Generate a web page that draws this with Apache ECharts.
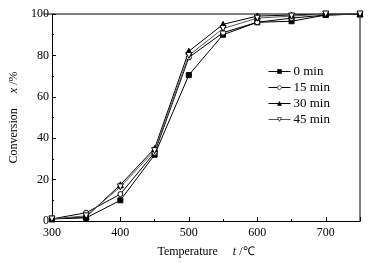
<!DOCTYPE html>
<html><head><meta charset="utf-8">
<script src="https://cdn.jsdelivr.net/npm/echarts@6/dist/echarts.min.js"></script>
<style>html,body{margin:0;padding:0;background:#fff}#c{width:369px;height:263px}</style>
</head><body><div id="c"></div>
<script>
const temps = [300, 350, 400, 450, 500, 550, 600, 650, 700, 750];
const s0 = [1, 1.5, 10, 32, 70.5, 90, 96, 96.5, 99.5, 100];
const s15 = [1, 4, 13, 33, 79, 91, 96, 98, 99.5, 100];
const s30 = [1, 2, 17.5, 35, 82, 95, 99, 99.5, 100, 100];
const s45 = [1, 2.5, 16.5, 34, 80, 93, 98, 99, 100, 100];
const names = ['0 min', '15 min', '30 min', '45 min'];
const F = 'Liberation Serif, Times New Roman, serif';
const chart = echarts.init(document.getElementById('c'));
function mk(name, vals, symbol, fill, lineColor, size) {
  return {
    name, type: 'line', data: temps.map((t, i) => [t, vals[i]]),
    symbol, symbolSize: size, showSymbol: true,
    lineStyle: { color: lineColor, width: 1 },
    itemStyle: { color: fill, borderColor: '#000', borderWidth: 1 },
    animation: false
  };
}
chart.setOption({
  backgroundColor: '#fff',
  grid: { left: 44, right: 9, top: 14, bottom: 41 },
  legend: {
    orient: 'vertical', left: 263, top: 60, itemWidth: 22, itemHeight: 5, itemGap: 3,
    data: names,
    itemStyle: { borderWidth: 0.6 },
    lineStyle: { width: 1 },
    textStyle: { fontFamily: F, fontSize: 13, color: '#000', padding: [0, 0, 0, -2] }
  },
  xAxis: {
    type: 'value', min: 300, max: 750, interval: 100,
    axisLine: { onZero: false, lineStyle: { color: '#000', width: 1 } },
    axisTick: { inside: true, length: 4, lineStyle: { color: '#000' } },
    minorTick: { show: true, splitNumber: 2, length: 2, lineStyle: { color: '#000' } },
    splitLine: { show: false },
    axisLabel: { fontFamily: F, fontSize: 12, color: '#000', margin: 6, showMaxLabel: false,
      formatter: v => v > 700 ? '' : v },
    name: '{a|Temperature}{b|     t}{a| /℃}', nameLocation: 'middle', nameGap: 25,
    nameTextStyle: { rich: { a: { fontFamily: F, fontSize: 12, color: '#000' }, b: { fontFamily: F, fontSize: 12, fontStyle: 'italic', color: '#000' } } }
  },
  yAxis: {
    type: 'value', min: 0, max: 100, interval: 20,
    axisLine: { lineStyle: { color: '#000', width: 1 } },
    axisTick: { inside: true, length: 4, lineStyle: { color: '#000' } },
    minorTick: { show: true, splitNumber: 2, length: 2, lineStyle: { color: '#000' } },
    splitLine: { show: false },
    axisLabel: { fontFamily: F, fontSize: 12, color: '#000', margin: 3 },
    name: '{a|Conversion}{b|     x}{a| /%}', nameLocation: 'middle', nameGap: 26,
    nameTextStyle: { rich: { a: { fontFamily: F, fontSize: 12, color: '#000' }, b: { fontFamily: F, fontSize: 12, fontStyle: 'italic', color: '#000' } } }
  },
  graphic: [{ type: 'polyline', shape: { points: [[44, 14], [360, 14], [360, 222]] }, style: { stroke: '#000', lineWidth: 1, fill: null }, silent: true }],
  series: [
    mk(names[0], s0, 'rect', '#000', '#000', 5),
    mk(names[1], s15, 'circle', '#fff', '#000', 5),
    mk(names[2], s30, 'triangle', '#000', '#000', 6),
    mk(names[3], s45, 'path://M0,0 L10,0 L5,9 Z', '#fff', '#555', 6)
  ]
});
</script></body></html>
